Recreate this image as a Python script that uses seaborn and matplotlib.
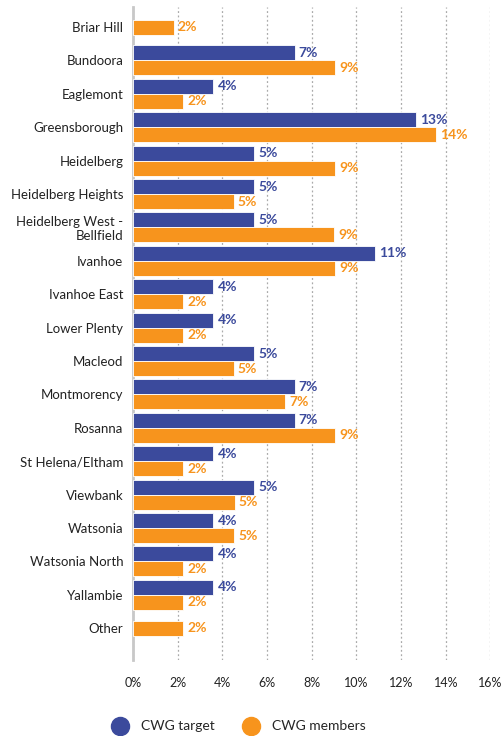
import numpy as np
import pandas as pd
import matplotlib
matplotlib.use("Agg")
import matplotlib.pyplot as plt
from matplotlib.lines import Line2D
import seaborn as sns

categories = ["Briar Hill", "Bundoora", "Eaglemont", "Greensborough", "Heidelberg",
              "Heidelberg Heights", "Heidelberg West -\nBellfield", "Ivanhoe", "Ivanhoe East",
              "Lower Plenty", "Macleod", "Montmorency", "Rosanna", "St Helena/Eltham",
              "Viewbank", "Watsonia", "Watsonia North", "Yallambie", "Other"]
cwg_target = [np.nan, 7.23, 3.6, 12.68, 5.43, 5.43, 5.43, 10.83, 3.6, 3.6, 5.43, 7.23, 7.23,
              3.6, 5.43, 3.6, 3.6, 3.6, np.nan]
cwg_members = [1.82, 9.03, 2.25, 13.56, 9.03, 4.51, 9.0, 9.03, 2.25, 2.25, 4.51, 6.79, 9.03,
               2.25, 4.55, 4.52, 2.25, 2.25, 2.25]
series = ["CWG target", "CWG members"]
colors = ["#3B4A9C", "#F7941D"]
xticks = [0, 2, 4, 6, 8, 10, 12, 14, 16]

df = pd.DataFrame({
    "category": categories * 2,
    "series": [series[0]] * len(categories) + [series[1]] * len(categories),
    "value": cwg_target + cwg_members,
})
# categories with only one series get a single, centred bar
pair_mask = df.groupby("category")["value"].transform(lambda v: v.notna().all())
df_pair = df[pair_mask]
df_single = df[~pair_mask & df["value"].notna()]

sns.set_theme(style="white")
plt.rcParams["font.family"] = ["Lato", "DejaVu Sans"]

fig = plt.figure(figsize=(5.02, 7.36), dpi=100)
ax = fig.add_axes([0.265, 0.1033, 0.712, 0.8872])

sns.barplot(data=df_pair, y="category", x="value", hue="series", order=categories,
            hue_order=series, palette=colors, orient="h", width=0.9, gap=0,
            saturation=1, edgecolor="#ffffff", linewidth=0.6, legend=False, ax=ax, zorder=3)
for cont, col in zip(ax.containers, colors):
    ax.bar_label(cont, fmt=lambda v: f"{v:.0f}%", padding=3, color=col,
                 fontsize=10, fontweight="bold")

n_before = len(ax.containers)
sns.barplot(data=df_single, y="category", x="value", order=categories, color=colors[1],
            orient="h", width=0.45, saturation=1, edgecolor="#ffffff", linewidth=0.6,
            ax=ax, zorder=3)
for cont in ax.containers[n_before:]:
    ax.bar_label(cont, fmt=lambda v: f"{v:.0f}%", padding=3, color=colors[1],
                 fontsize=10, fontweight="bold")

ax.set_xlim(0, 16)
ax.set_ylim(18.95, -0.6)
ax.set_xticks(xticks)
ax.set_xticklabels([f"{t}%" for t in xticks], fontsize=9, color="#222222")
ax.tick_params(axis="x", length=0, pad=12)
ax.tick_params(axis="y", length=0, pad=7, labelsize=9.5, labelcolor="#222222")
for lbl in ax.get_yticklabels():
    lbl.set_multialignment("right")
ax.set_xlabel("")
ax.set_ylabel("")
ax.xaxis.grid(True, linestyle=(0, (1.5, 2)), color="#aaaaaa", linewidth=0.9, zorder=0)
ax.yaxis.grid(False)
for s in ["top", "right", "bottom"]:
    ax.spines[s].set_visible(False)
ax.spines["left"].set_color("#c8c8c8")
ax.spines["left"].set_linewidth(2)
ax.set_axisbelow(True)

handles = [Line2D([], [], marker="o", linestyle="", markersize=13,
                  markerfacecolor=c, markeredgecolor=c) for c in colors]
fig.legend(handles, series, loc="center", bbox_to_anchor=(0.47, 0.013), ncol=2,
           frameon=False, fontsize=10, handletextpad=0.5, columnspacing=1.6)

fig.savefig("out.png", dpi=100)
